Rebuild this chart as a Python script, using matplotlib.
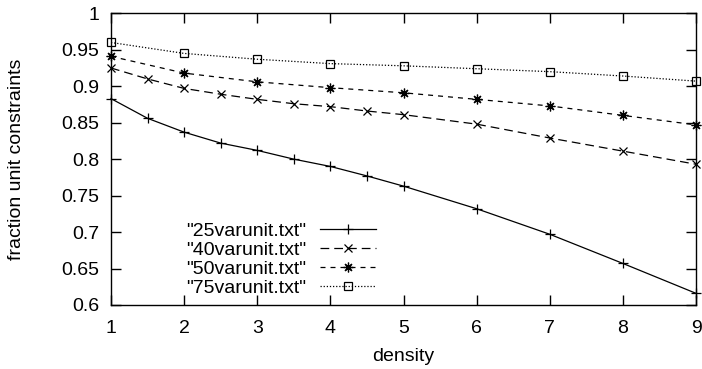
import matplotlib
matplotlib.use("Agg")
import matplotlib.pyplot as plt

plt.rcParams['font.family'] = ['Liberation Sans', 'DejaVu Sans']

# data
x_half = [1, 1.5, 2, 2.5, 3, 3.5, 4, 4.5, 5, 6, 7, 8, 9]
x_int = [1, 2, 3, 4, 5, 6, 7, 8, 9]
y25 = [0.883, 0.856, 0.837, 0.822, 0.812, 0.800, 0.790, 0.777, 0.763, 0.732, 0.697, 0.657, 0.616]
y40 = [0.925, 0.910, 0.897, 0.889, 0.882, 0.876, 0.872, 0.866, 0.861, 0.848, 0.829, 0.811, 0.793]
y50 = [0.941, 0.918, 0.906, 0.898, 0.891, 0.882, 0.873, 0.860, 0.847]
y75 = [0.960, 0.945, 0.937, 0.931, 0.928, 0.924, 0.920, 0.914, 0.907]
labels = ['"25varunit.txt"', '"40varunit.txt"', '"50varunit.txt"', '"75varunit.txt"']
xticks = [1, 2, 3, 4, 5, 6, 7, 8, 9]
yticks = [0.6, 0.65, 0.7, 0.75, 0.8, 0.85, 0.9, 0.95, 1.0]
ytick_labels = ['0.6', '0.65', '0.7', '0.75', '0.8', '0.85', '0.9', '0.95', '1']

W, H = 702, 369
fig = plt.figure(figsize=(W/100, H/100), dpi=100)
L, R, T, B = 111, 696, 13.3, 305
ax = fig.add_axes([L/W, 1-B/H, (R-L)/W, (B-T)/H])

fs = 14
lw = 0.9
ax.plot(x_half, y25, color='black', lw=lw, ls='-', marker='+', ms=6.5, mew=0.9, label=labels[0], clip_on=False)
ax.plot(x_half, y40, color='black', lw=lw, ls=(0, (7, 4)), marker='x', ms=5.5, mew=0.9, label=labels[1], clip_on=False)
ax.plot(x_int, y50, color='black', lw=lw, ls=(0, (4, 4)), marker=(8, 2, 0), ms=7, mew=0.9, label=labels[2], clip_on=False)
ax.plot(x_int, y75, color='black', lw=lw, ls=(0, (1, 1.5)), marker='s', ms=5.5, mew=0.9, mfc='none', label=labels[3], clip_on=False)

ax.set_xlim(1, 9)
ax.set_ylim(0.6, 1.0)
ax.set_xticks(xticks)
ax.set_xticklabels([str(t) for t in xticks])
ax.set_yticks(yticks)
ax.set_yticklabels(ytick_labels)
ax.tick_params(direction='in', length=7, width=1, top=True, right=True, labelsize=fs, colors='black')
ax.tick_params(axis='x', pad=10.5)
ax.tick_params(axis='y', pad=8.5)
for s in ax.spines.values():
    s.set_linewidth(1.0)

ax.set_xlabel('density', fontsize=fs, labelpad=8)
ax.set_ylabel('fraction unit constraints', fontsize=fs, labelpad=26)

leg = ax.legend(loc='lower right', bbox_to_anchor=((376-L)/(R-L), 0.029), frameon=False,
                markerfirst=False, fontsize=fs, handlelength=2.88, handletextpad=0.72,
                labelspacing=0.06, borderpad=0, borderaxespad=0, numpoints=1)

fig.savefig('out.png', dpi=100)
